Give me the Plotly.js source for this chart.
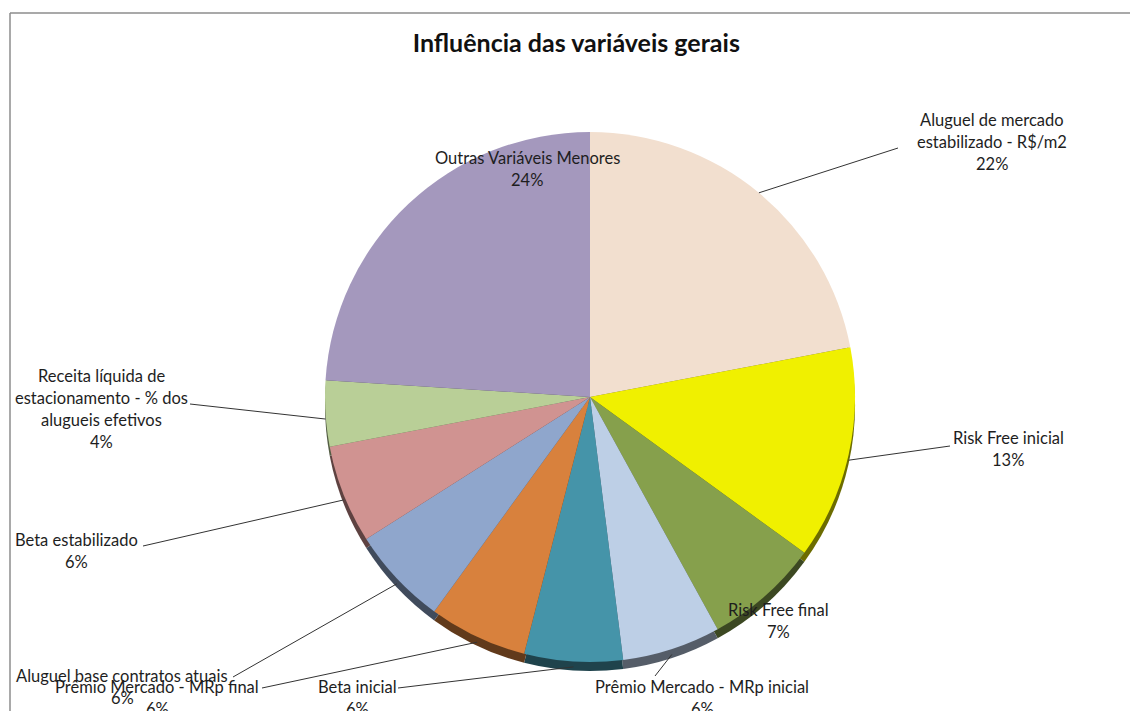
<!DOCTYPE html>
<html>
<head>
<meta charset="utf-8">
<script src="https://cdn.plot.ly/plotly-3.0.1.min.js"></script>
<style>html,body{margin:0;padding:0;background:#fff;}#chart{width:1130px;height:711px;}</style>
</head>
<body>
<div id="chart"></div>
<script>
// ---- data ----
const categories = [
  "Aluguel de mercado estabilizado - R$/m2",
  "Risk Free inicial",
  "Risk Free final",
  "Prêmio Mercado - MRp inicial",
  "Beta inicial",
  "Prêmio Mercado - MRp final",
  "Aluguel base contratos atuais",
  "Beta estabilizado",
  "Receita líquida de estacionamento - % dos alugueis efetivos",
  "Outras Variáveis Menores"
];
const labelLines = [
  ["Aluguel de mercado", "estabilizado - R$/m2"],
  ["Risk Free inicial"],
  ["Risk Free final"],
  ["Prêmio Mercado - MRp inicial"],
  ["Beta inicial"],
  ["Prêmio Mercado - MRp final"],
  ["Aluguel base contratos atuais"],
  ["Beta estabilizado"],
  ["Receita líquida de", "estacionamento - % dos", "alugueis efetivos"],
  ["Outras Variáveis Menores"]
];
const values = [22, 13, 7, 6, 6, 6, 6, 6, 4, 24];
const titleText = "Influência das variáveis gerais";

// ---- style / layout ----
const colors = ["#F2DFCF", "#F0F000", "#86A04C", "#BDCFE6", "#4594A9", "#D8813D", "#8FA6CC", "#D09391", "#B9CF97", "#A498BD"];
const W = 1130, H = 711;
const CX = 590, CY = 397, R = 265;     // pie centre / radius in px
const DEPTH = 9;                       // 3-D edge depth in px
const LINE_H = 22;
const FONT = "Lato, 'Open Sans', sans-serif";
// label text centre (x) and first-line y, plus leader end point (px)
const labelPos = [
  {x: 992, y: 120, end: [898, 148]},
  {x: 1008, y: 438, end: [950, 446]},
  {x: 778, y: 610, end: null},
  {x: 702, y: 687, end: [655, 676]},
  {x: 357, y: 687, end: [398, 688]},
  {x: 157, y: 687, end: [262, 688]},
  {x: 122, y: 676, end: [233, 677]},
  {x: 76, y: 540, end: [143, 546]},
  {x: 101, y: 376, end: [190, 404]},
  {x: 527, y: 158, end: null}
];

function darken(hex, f) {
  const n = parseInt(hex.slice(1), 16);
  const r = Math.round(((n >> 16) & 255) * f), g = Math.round(((n >> 8) & 255) * f), b = Math.round((n & 255) * f);
  return "rgb(" + r + "," + g + "," + b + ")";
}
const px = x => x / W;
const py = y => 1 - y / H;

const domX = [px(CX - R), px(CX + R)];
const pieBase = {
  type: "pie", labels: categories, values: values, sort: false, direction: "clockwise",
  rotation: 0, textinfo: "none", hoverinfo: "none", showlegend: false
};
const shadow = Object.assign({}, pieBase, {
  marker: {colors: colors.map(c => darken(c, 0.45)), line: {width: 0}},
  domain: {x: domX, y: [py(CY + R + DEPTH), py(CY - R + DEPTH)]}
});
const face = Object.assign({}, pieBase, {
  marker: {colors: colors, line: {width: 0}},
  domain: {x: domX, y: [py(CY + R), py(CY - R)]}
});

const total = values.reduce((a, b) => a + b, 0);
const annotations = [];
const shapes = [];
let cum = 0;
values.forEach((v, i) => {
  const mid = (cum + v / 2) / total * 2 * Math.PI;
  cum += v;
  const pct = Math.round(v / total * 100) + "%";
  const lines = labelLines[i].concat([pct]);
  const p = labelPos[i];
  lines.forEach((t, k) => {
    annotations.push({
      text: t, showarrow: false, xref: "paper", yref: "paper",
      x: px(p.x), y: py(p.y + k * LINE_H), xanchor: "center", yanchor: "middle",
      font: {family: FONT, size: 16.5, color: "#1e1e1e"}
    });
  });
  if (p.end) {
    const sx = CX + R * Math.sin(mid), sy = CY - R * Math.cos(mid) + (Math.cos(mid) < 0 ? DEPTH * 0.6 : 0);
    shapes.push({type: "line", xref: "paper", yref: "paper",
      x0: px(sx), y0: py(sy), x1: px(p.end[0]), y1: py(p.end[1]),
      line: {color: "#333333", width: 1}});
  }
});
// chart frame
shapes.push({type: "line", xref: "paper", yref: "paper", x0: px(10), y0: py(13), x1: 1, y1: py(13), line: {color: "#8c8c8c", width: 1.5}});
shapes.push({type: "line", xref: "paper", yref: "paper", x0: px(10), y0: py(13), x1: px(10), y1: 0, line: {color: "#8c8c8c", width: 1.5}});

const layout = {
  width: W, height: H,
  margin: {l: 0, r: 0, t: 0, b: 0},
  paper_bgcolor: "#ffffff",
  title: {text: "<b>" + titleText + "</b>", x: 0.51, xanchor: "center", y: 1 - 43 / H, yanchor: "middle", yref: "container",
    font: {family: FONT, size: 25, color: "#111111"}},
  annotations: annotations,
  shapes: shapes
};
Plotly.newPlot("chart", [shadow, face], layout, {displayModeBar: false, staticPlot: true});
</script>
</body>
</html>
